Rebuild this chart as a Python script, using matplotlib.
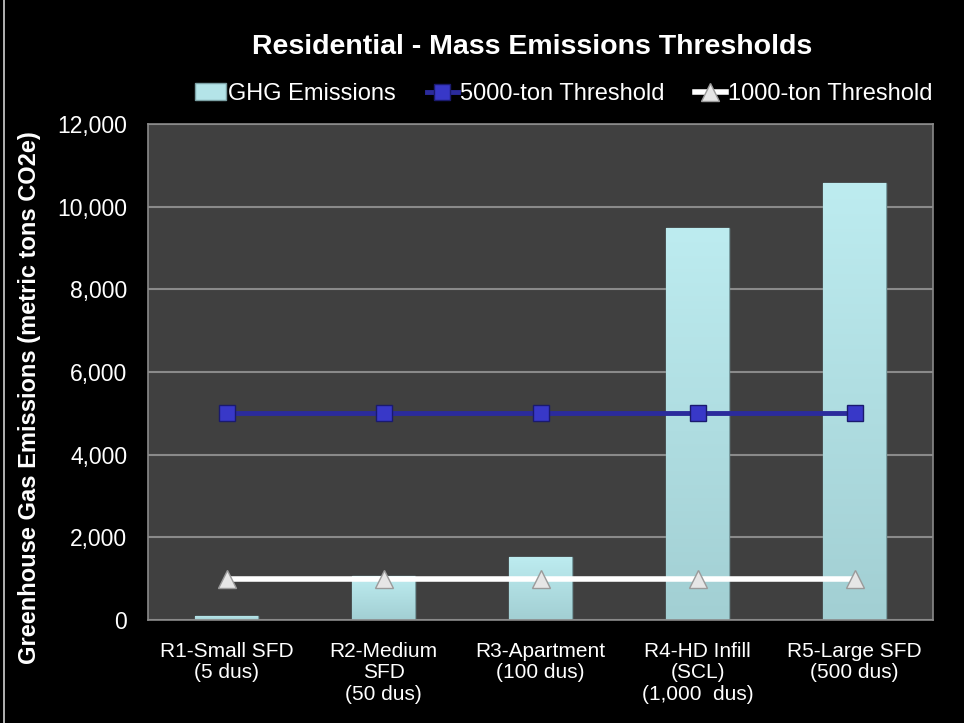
import matplotlib.pyplot as plt
from matplotlib.lines import Line2D
from matplotlib.colors import LinearSegmentedColormap
import numpy as np

plt.rcParams["font.family"] = ["Liberation Sans", "DejaVu Sans"]

# data
categories = ["R1-Small SFD\n(5 dus)", "R2-Medium\nSFD\n(50 dus)", "R3-Apartment\n(100 dus)",
              "R4-HD Infill\n(SCL)\n(1,000  dus)", "R5-Large SFD\n(500 dus)"]
ghg = [100, 1060, 1525, 9480, 10570]
thr5000 = [5000, 5000, 5000, 5000, 5000]
thr1000 = [1000, 1000, 1000, 1000, 1000]

W, H = 964, 723
fig = plt.figure(figsize=(W/100, H/100), dpi=100, facecolor="black")
ax = fig.add_axes([148/W, 1-620/H, 785/W, 496/H])
ax.set_facecolor("#404040")

x = np.arange(len(categories))
bars = ax.bar(x, ghg, width=0.4, color="#b4e4e8", edgecolor="#7a9fa3", linewidth=1,
              label="GHG Emissions", zorder=2)

# soft vertical shading inside each bar
cmap = LinearSegmentedColormap.from_list("bar", ["#a2cfd3", "#bdecf0"])
grad = np.linspace(0, 1, 256).reshape(-1, 1)
for b in bars:
    x0, w, h = b.get_x(), b.get_width(), b.get_height()
    im = ax.imshow(grad, cmap=cmap, origin="lower", aspect="auto",
                   extent=(x0, x0 + w, 0, h), zorder=2.1)
    im.set_clip_path(b)

l5, = ax.plot(x, thr5000, "-s", color="#2b2b9c", markerfacecolor="#3838c8",
              markeredgecolor="#1a1a6e", markersize=11.5, linewidth=3.5,
              label="5000-ton Threshold", zorder=3)
l1, = ax.plot(x, thr1000, "-^", color="white", markerfacecolor="#e6e6e6",
              markeredgecolor="#9a9a9a", markersize=12.5, linewidth=4,
              label="1000-ton Threshold", zorder=3)

ax.set_xlim(-0.5, 4.5)
ax.set_ylim(0, 12000)
ax.set_yticks(range(0, 12001, 2000))
ax.set_yticklabels([f"{v:,}" for v in range(0, 12001, 2000)])
ax.set_xticks(x)
ax.set_xticklabels(categories, linespacing=1.15)
ax.tick_params(axis="y", colors="white", labelsize=16.5, length=0, pad=15)
ax.tick_params(axis="x", colors="white", labelsize=15, length=0, pad=16)
ax.grid(axis="y", color="#8a8a8a", linewidth=1.5, zorder=0)
ax.set_axisbelow(True)
for s in ax.spines.values():
    s.set_color("#8a8a8a")
    s.set_linewidth(1.2)

fig.text(30/W, 1-398/H, "Greenhouse Gas Emissions (metric tons CO2e)", color="white",
         fontsize=17, fontweight="bold", rotation=90, ha="center", va="center")

fig.text(532/W, 1-47/H, "Residential - Mass Emissions Thresholds", color="white",
         fontsize=20.5, fontweight="bold", ha="center", va="center")

fig.legend([bars, l5, l1], ["GHG Emissions", "5000-ton Threshold", "1000-ton Threshold"],
           loc="center", bbox_to_anchor=(564/W, 1-94/H), ncol=3,
           frameon=False, fontsize=17, labelcolor="white",
           handlelength=1.3, handletextpad=0.1, columnspacing=1.3)

# thin border at the left edge of the slide
fig.add_artist(Line2D([4/W, 4/W], [0, 1], color="#d0d0d0", linewidth=1.2))

fig.savefig("out.png", dpi=100, facecolor="black")
